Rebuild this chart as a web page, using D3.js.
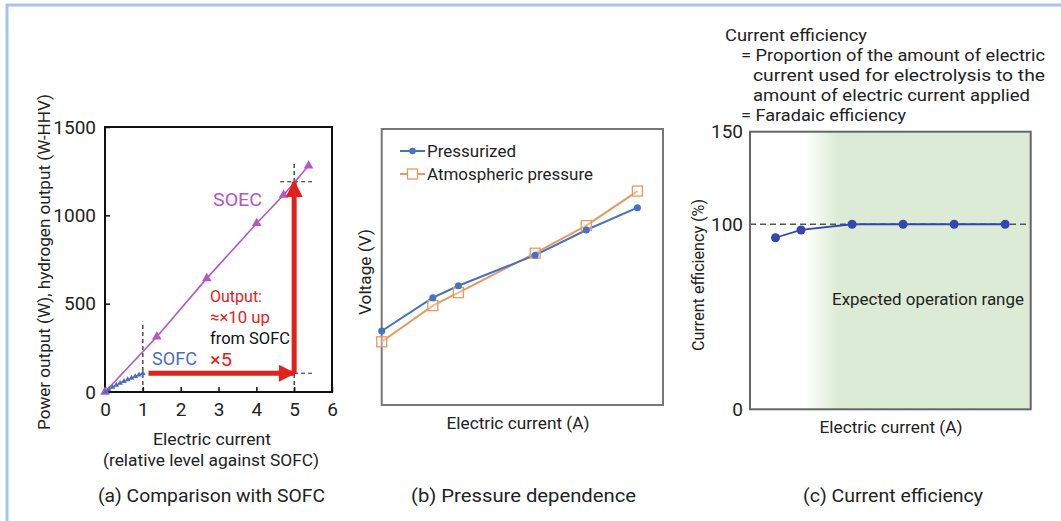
<!DOCTYPE html>
<html><head><meta charset="utf-8">
<script src="https://cdn.jsdelivr.net/npm/d3@7"></script>
<style>
body{margin:0;background:#fff;}
svg text{font-family:"Roboto","Noto Sans",sans-serif;fill:#222;}
</style></head><body>
<svg id="c" width="1061" height="521"></svg>
<script>
// ---------- data ----------
// panel (a)
const soecX = [0, 1.37, 2.69, 4.01, 4.72, 5.38];
const soecY = [0, 313, 643, 955, 1115, 1281];
const sofcX = [0, 0.1, 0.2, 0.3, 0.4, 0.5, 0.6, 0.7, 0.8, 0.9, 1.0];
const sofcY = [0, 14, 27, 39, 50, 60, 70, 79, 88, 97, 106];
const aXTicks = [0, 1, 2, 3, 4, 5, 6];
const aYTicks = [0, 500, 1000, 1500];
// panel (b)
const bX = [0, 1, 1.5, 3, 4, 5];
const pressurized = [26.8, 38.9, 43.2, 54.3, 63.4, 71.5];
const atmospheric = [22.9, 36.0, 40.7, 55.0, 65.0, 77.5];
const bSeries = ["Pressurized", "Atmospheric pressure"];
// panel (c)
const cX = [0.5, 1, 2, 3, 4, 5];
const cEff = [92.7, 96.9, 100, 100, 100, 100];
const cYTicks = [0, 100, 150];
const captions = ["(a) Comparison with SOFC", "(b) Pressure dependence", "(c) Current efficiency"];
const noteLines = ["Current efficiency", "= Proportion of the amount of electric", "current used for electrolysis to the", "amount of electric current applied", "= Faradaic efficiency"];

const svg = d3.select("#c");
const fmt = d3.format("d");

// fitted text helper: real text, stretched to the reference width
function fitText(sel, w) { return sel.attr("textLength", w).attr("lengthAdjust", "spacingAndGlyphs"); }

// border frame
svg.append("rect").attr("x", 7).attr("y", 5).attr("width", 1061).attr("height", 530)
  .attr("fill", "none").attr("stroke", "#a3c6e8").attr("stroke-width", 3);

const defs = svg.append("defs");
defs.append("marker").attr("id", "arr").attr("viewBox", "0 0 10 10").attr("refX", 9).attr("refY", 5)
  .attr("markerWidth", 4).attr("markerHeight", 3.4).attr("orient", "auto").attr("markerUnits", "strokeWidth")
  .append("path").attr("d", "M0,0 L10,5 L0,10 z").attr("fill", "#e3211c");

// ================= Panel (a) =================
{
  const x = d3.scaleLinear().domain([0, 6]).range([105, 332]);
  const y = d3.scaleLinear().domain([0, 1500]).range([392, 127]);
  const g = svg.append("g");
  g.append("g").attr("transform", "translate(0,392)")
    .call(d3.axisBottom(x).tickValues(aXTicks).tickFormat(fmt).tickSizeInner(-5).tickSizeOuter(0).tickPadding(11))
    .call(s => { s.select(".domain").remove(); s.selectAll("line").attr("stroke", "#111").attr("stroke-width", 1.5);
      s.selectAll("text").attr("font-size", 19).attr("fill", "#222"); });
  g.append("g").attr("transform", "translate(105,0)")
    .call(d3.axisLeft(y).tickValues(aYTicks).tickFormat(fmt).tickSizeInner(-5).tickSizeOuter(0).tickPadding(9))
    .call(s => { s.select(".domain").remove(); s.selectAll("line").attr("stroke", "#111").attr("stroke-width", 1.5);
      s.selectAll("text").attr("font-size", 19).attr("fill", "#222"); });
  g.append("rect").attr("x", 105).attr("y", 127).attr("width", 227).attr("height", 265)
    .attr("fill", "none").attr("stroke", "#111").attr("stroke-width", 2);

  const dash = [[1, 0, 1, 398], [5, 0, 5, 1296], [4.63, 1190, 5.47, 1190], [5, 106, 5.47, 106]];
  g.selectAll(".dg").data(dash).join("line")
    .attr("x1", d => x(d[0])).attr("y1", d => y(d[1])).attr("x2", d => x(d[2])).attr("y2", d => y(d[3]))
    .attr("stroke", "#222").attr("stroke-width", 1.2).attr("stroke-dasharray", "4,3");

  const soec = soecX.map((v, i) => [v, soecY[i]]);
  g.append("path").datum(soec).attr("d", d3.line().x(d => x(d[0])).y(d => y(d[1])))
    .attr("fill", "none").attr("stroke", "#b457c4").attr("stroke-width", 1.6);
  g.selectAll(".st").data(soec).join("path")
    .attr("d", d3.symbol(d3.symbolTriangle, 40))
    .attr("transform", d => `translate(${x(d[0])},${y(d[1])})`).attr("fill", "#b457c4");

  const sofc = sofcX.map((v, i) => [v, sofcY[i]]);
  g.append("path").datum(sofc).attr("d", d3.line().curve(d3.curveMonotoneX).x(d => x(d[0])).y(d => y(d[1])))
    .attr("fill", "none").attr("stroke", "#4a6fc2").attr("stroke-width", 1.4);
  g.selectAll(".sf").data(sofc).join("path")
    .attr("d", d3.symbol(d3.symbolTriangle, 14))
    .attr("transform", d => `translate(${x(d[0])},${y(d[1])})`).attr("fill", "#4a6fc2");

  g.append("line").attr("x1", x(1.15)).attr("y1", y(106)).attr("x2", x(5)).attr("y2", y(106))
    .attr("stroke", "#e3211c").attr("stroke-width", 5).attr("marker-end", "url(#arr)");
  g.append("line").attr("x1", x(5)).attr("y1", y(106)).attr("x2", x(5)).attr("y2", y(1190))
    .attr("stroke", "#e3211c").attr("stroke-width", 5).attr("marker-end", "url(#arr)");

  fitText(g.append("text").attr("x", 213).attr("y", 206).attr("font-size", 19)
    .style("fill", "#b457c4").text("SOEC"), 49);
  fitText(g.append("text").attr("x", 210).attr("y", 302).attr("font-size", 17).style("fill", "#e3211c").text("Output:"), 52);
  fitText(g.append("text").attr("x", 210).attr("y", 323).attr("font-size", 17).style("fill", "#e3211c").text("≈×10 up"), 60);
  fitText(g.append("text").attr("x", 210).attr("y", 344).attr("font-size", 17).style("fill", "#111").text("from SOFC"), 80);
  fitText(g.append("text").attr("x", 152).attr("y", 365).attr("font-size", 18).style("fill", "#4a6fc2").text("SOFC"), 45);
  fitText(g.append("text").attr("x", 210).attr("y", 366).attr("font-size", 18).style("fill", "#e3211c").text("×5"), 22);

  fitText(g.append("text").attr("transform", "translate(50,262) rotate(-90)").attr("text-anchor", "middle")
    .attr("font-size", 17).text("Power output (W), hydrogen output (W-HHV)"), 336);
  fitText(g.append("text").attr("x", 212).attr("y", 445).attr("text-anchor", "middle").attr("font-size", 17).text("Electric current"), 118);
  fitText(g.append("text").attr("x", 211).attr("y", 466).attr("text-anchor", "middle").attr("font-size", 17).text("(relative level against SOFC)"), 216);
}

// ================= Panel (b) =================
{
  const x = d3.scaleLinear().domain([0, 5.5]).range([381.7, 663]);
  const y = d3.scaleLinear().domain([0, 100]).range([405, 129]);
  const g = svg.append("g");
  g.append("rect").attr("x", 381.7).attr("y", 129).attr("width", 281.3).attr("height", 276)
    .attr("fill", "none").attr("stroke", "#777").attr("stroke-width", 2);
  const line = d3.line().x(d => x(d[0])).y(d => y(d[1]));
  const p = bX.map((v, i) => [v, pressurized[i]]);
  const a = bX.map((v, i) => [v, atmospheric[i]]);
  const blue = "#4472c4", orange = "#e89a5c";
  g.append("path").datum(a).attr("d", line).attr("fill", "none").attr("stroke", orange).attr("stroke-width", 2);
  g.append("path").datum(p).attr("d", line).attr("fill", "none").attr("stroke", blue).attr("stroke-width", 2);
  g.selectAll(".sq").data(a).join("rect")
    .attr("x", d => x(d[0]) - 5).attr("y", d => y(d[1]) - 5).attr("width", 10).attr("height", 10)
    .attr("fill", "#fff").attr("fill-opacity", 0.3).attr("stroke", orange).attr("stroke-width", 1.3);
  g.selectAll(".ci").data(p).join("circle")
    .attr("cx", d => x(d[0])).attr("cy", d => y(d[1])).attr("r", 3.5).attr("fill", blue);
  const lg = g.append("g");
  lg.append("line").attr("x1", 400).attr("x2", 425).attr("y1", 151).attr("y2", 151).attr("stroke", blue).attr("stroke-width", 2);
  lg.append("circle").attr("cx", 412.5).attr("cy", 151).attr("r", 3.2).attr("fill", blue);
  fitText(lg.append("text").attr("x", 427).attr("y", 157).attr("font-size", 17).text(bSeries[0]), 89);
  lg.append("line").attr("x1", 400).attr("x2", 425).attr("y1", 174).attr("y2", 174).attr("stroke", orange).attr("stroke-width", 2);
  lg.append("rect").attr("x", 407.5).attr("y", 169).attr("width", 10).attr("height", 10).attr("fill", "#fff").attr("stroke", orange).attr("stroke-width", 1.3);
  fitText(lg.append("text").attr("x", 427).attr("y", 180).attr("font-size", 17).text(bSeries[1]), 166);

  fitText(g.append("text").attr("transform", "translate(371,272) rotate(-90)").attr("text-anchor", "middle")
    .attr("font-size", 17).text("Voltage (V)"), 86);
  fitText(g.append("text").attr("x", 518).attr("y", 429).attr("text-anchor", "middle").attr("font-size", 17).text("Electric current (A)"), 143);
}

// ================= Panel (c) =================
{
  const x = d3.scaleLinear().domain([0, 5.5]).range([750, 1030.7]);
  const y = d3.scaleLinear().domain([0, 150]).range([409.3, 131.7]);
  const g = svg.append("g");
  const grad = defs.append("linearGradient").attr("id", "gr").attr("gradientUnits", "userSpaceOnUse")
    .attr("x1", x(1.08)).attr("x2", x(1.72)).attr("y1", 0).attr("y2", 0);
  grad.append("stop").attr("offset", 0).attr("stop-color", "#dcebd5").attr("stop-opacity", 0);
  grad.append("stop").attr("offset", 1).attr("stop-color", "#dcebd5").attr("stop-opacity", 1);
  g.append("rect").attr("x", x(1.08)).attr("y", y(150)).attr("width", x(5.5) - x(1.08)).attr("height", y(0) - y(150))
    .attr("fill", "url(#gr)");
  g.append("line").attr("x1", x(0)).attr("x2", x(5.5)).attr("y1", y(100)).attr("y2", y(100))
    .attr("stroke", "#555").attr("stroke-width", 1.3).attr("stroke-dasharray", "6,4");
  g.append("rect").attr("x", 750).attr("y", 131.7).attr("width", 280.7).attr("height", 277.6)
    .attr("fill", "none").attr("stroke", "#666").attr("stroke-width", 2);
  g.append("g").attr("transform", "translate(750,0)")
    .call(d3.axisLeft(y).tickValues(cYTicks).tickFormat(fmt).tickSize(0).tickPadding(7))
    .call(s => { s.select(".domain").remove(); s.selectAll("text").attr("font-size", 19).attr("fill", "#222"); });
  const pts = cX.map((v, i) => [v, cEff[i]]);
  g.append("path").datum(pts).attr("d", d3.line().x(d => x(d[0])).y(d => y(d[1])))
    .attr("fill", "none").attr("stroke", "#3447b0").attr("stroke-width", 1.8);
  g.selectAll(".cp").data(pts).join("circle").attr("cx", d => x(d[0])).attr("cy", d => y(d[1])).attr("r", 4.5)
    .attr("fill", "#3447b0");
  fitText(g.append("text").attr("x", 928).attr("y", 305).attr("text-anchor", "middle").attr("font-size", 17).text("Expected operation range"), 192);
  fitText(g.append("text").attr("transform", "translate(704,275) rotate(-90)").attr("text-anchor", "middle")
    .attr("font-size", 17).text("Current efficiency (%)"), 152);
  fitText(g.append("text").attr("x", 891).attr("y", 433).attr("text-anchor", "middle").attr("font-size", 17).text("Electric current (A)"), 143);
  const nx = [725, 741, 753, 753, 741];
  const nw = [142, 304, 292, 277, 165];
  noteLines.forEach((t, i) => {
    fitText(g.append("text").attr("x", nx[i]).attr("y", 41 + i * 20).attr("font-size", 17).text(t), nw[i]);
  });
}

// captions
const capX = [211.5, 523.5, 893];
const capW = [227, 225, 180];
captions.forEach((t, i) => {
  fitText(svg.append("text").attr("x", capX[i]).attr("y", 502).attr("text-anchor", "middle").attr("font-size", 18).text(t), capW[i]);
});
</script></body></html>
